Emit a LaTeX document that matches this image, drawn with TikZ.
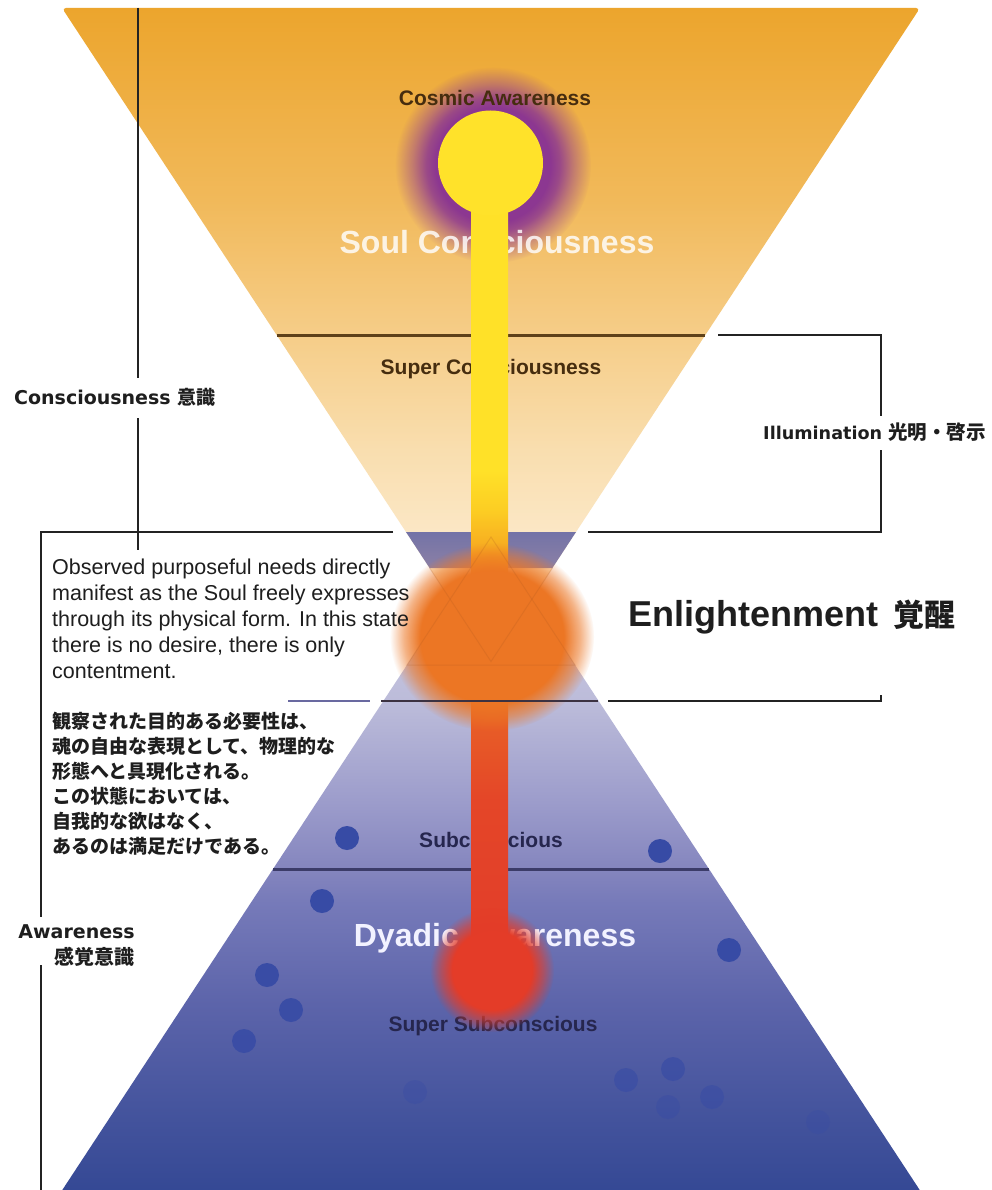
\documentclass[tikz,border=0pt]{standalone}
\usepackage{fontspec}
\setmainfont{Liberation Sans}
\newfontfamily\dvs{DejaVu Sans}
\newfontfamily\jp{Noto Sans CJK JP}
\usetikzlibrary{fadings}

\definecolor{brk}{RGB}{35,35,35}
\definecolor{txt}{RGB}{30,30,30}
\definecolor{brownlbl}{RGB}{70,45,15}
\definecolor{navylbl}{RGB}{38,38,78}
\definecolor{scline}{RGB}{95,65,25}
\definecolor{subline}{RGB}{60,60,105}
\definecolor{dotc}{RGB}{55,75,165}
\definecolor{halo}{RGB}{140,55,145}
\definecolor{glowc}{RGB}{236,118,36}
\definecolor{redblob}{RGB}{228,60,40}
\definecolor{sun}{RGB}{255,226,42}
\definecolor{bandtop}{RGB}{115,115,167}
\definecolor{bandbot}{RGB}{140,128,165}
\definecolor{neckline}{RGB}{170,85,30}
\definecolor{bluish}{RGB}{105,105,160}
\definecolor{darkmid}{RGB}{60,50,65}

% lower pyramid colours (bottom -> top); TikZ maps 25bp..75bp onto the path
\definecolor{pyA}{RGB}{52,72,148}
\definecolor{pyB}{RGB}{70,85,158}
\definecolor{pyC}{RGB}{92,100,170}
\definecolor{pyD}{RGB}{118,122,185}
\definecolor{pyE}{RGB}{132,133,190}
\definecolor{pyF}{RGB}{156,156,203}
\definecolor{pyG}{RGB}{188,188,218}
\definecolor{pyH}{RGB}{212,206,226}
\pgfdeclareverticalshading{pyrshade}{100bp}{color(0bp)=(pyA); color(25bp)=(pyA); color(31.9bp)=(pyB); color(39.5bp)=(pyC); color(47.2bp)=(pyD); color(49.65bp)=(pyE); color(54.85bp)=(pyF); color(62.5bp)=(pyG); color(75bp)=(pyH); color(100bp)=(pyH)}

% upper triangle colours (bottom -> top)
\definecolor{upA}{RGB}{250,226,192}
\definecolor{upB}{RGB}{251,231,197}
\definecolor{upC}{RGB}{249,222,175}
\definecolor{upD}{RGB}{246,206,138}
\definecolor{upE}{RGB}{241,185,90}
\definecolor{upF}{RGB}{236,165,45}
\pgfdeclareverticalshading{upshade}{100bp}{color(0bp)=(upA); color(25bp)=(upA); color(34.85bp)=(upB); color(41.15bp)=(upC); color(49.55bp)=(upD); color(60.3bp)=(upE); color(75bp)=(upF); color(100bp)=(upF)}

% beam colours (bottom -> top)
\definecolor{bmA}{RGB}{226,60,42}
\definecolor{bmB}{RGB}{228,70,40}
\definecolor{bmC}{RGB}{233,100,38}
\definecolor{bmD}{RGB}{237,120,35}
\definecolor{bmE}{RGB}{245,160,32}
\definecolor{bmF}{RGB}{252,205,35}
\definecolor{bmG}{RGB}{255,225,40}
\pgfdeclareverticalshading{beamshade}{100bp}{color(0bp)=(bmA); color(25bp)=(bmA); color(35.3bp)=(bmB); color(41.5bp)=(bmC); color(46.5bp)=(bmD); color(50.25bp)=(bmE); color(53.35bp)=(bmF); color(55.85bp)=(bmG); color(100bp)=(bmG)}

% fadings (radius 25bp = edge of the path)
\pgfdeclareradialshading{glowfadeshade}{\pgfpointorigin}{color(0bp)=(pgftransparent!0); color(17.5bp)=(pgftransparent!0); color(21.5bp)=(pgftransparent!45); color(25bp)=(pgftransparent!100); color(50bp)=(pgftransparent!100)}
\pgfdeclarefading{glowfade}{\pgfuseshading{glowfadeshade}}
\pgfdeclareradialshading{halofadeshade}{\pgfpointorigin}{color(0bp)=(pgftransparent!0); color(14.5bp)=(pgftransparent!0); color(17bp)=(pgftransparent!15); color(20.5bp)=(pgftransparent!55); color(25bp)=(pgftransparent!100); color(50bp)=(pgftransparent!100)}
\pgfdeclarefading{halofade}{\pgfuseshading{halofadeshade}}
\pgfdeclareradialshading{redfadeshade}{\pgfpointorigin}{color(0bp)=(pgftransparent!0); color(16bp)=(pgftransparent!0); color(20.5bp)=(pgftransparent!45); color(25bp)=(pgftransparent!100); color(50bp)=(pgftransparent!100)}
\pgfdeclarefading{redfade}{\pgfuseshading{redfadeshade}}

\begin{document}
\begin{tikzpicture}[x=1pt,y=-1pt,
  lbl/.style={font=\fontsize{21}{25}\selectfont\bfseries, inner sep=0},
  biglbl/.style={font=\fontsize{32}{38}\selectfont\bfseries, inner sep=0, text=white},
  side/.style={font=\fontsize{19}{23}\selectfont\dvs\bfseries, inner sep=0, text=txt},
  brkline/.style={line width=2pt, draw=brk},
  dot/.style={fill=dotc, draw=none}]
\useasboundingbox (0,0) rectangle (992,1190);
\fill[white] (0,0) rectangle (992,1190);

% lower pyramid
\shade[shading=pyrshade] (491,537) -- (923,1195) -- (59,1195) -- cycle;
% upper inverted triangle
\shade[shading=upshade, rounded corners=4pt] (62,8) -- (920,8) -- (491,661.5) -- cycle;
% blue band at the neck
\shade[top color=bandtop, bottom color=bandbot] (406,532) -- (576,532) -- (552.4,568) -- (429.6,568) -- cycle;

% level lines
\draw[line width=3pt, scline] (277,335) -- (705,335);
\draw[line width=3pt, subline] (273,869) -- (709,869);

% dots
\foreach \px/\py/\op in {347/838/1, 660/851/1, 322/901/1, 729/950/1, 267/975/0.95, 291/1010/0.9, 244/1041/0.85, 415/1092/0.35, 626/1080/0.6, 673/1069/0.65, 712/1097/0.5, 668/1107/0.4, 818/1122/0.3}
  \fill[dot, opacity=\op] (\px,\py) circle (12);

% halo around cosmic awareness
\fill[halo, path fading=halofade] (493,165) circle (98);

% level labels
\node[lbl, text=brownlbl] (cosmic) at (495,98) {Cosmic Awareness};
\node[biglbl, opacity=0.82] (soul) at (497,242) {Soul Consciousness};
\node[lbl, text=brownlbl] (supercon) at (491,369) {Super Consciousness};
\node[lbl, text=navylbl] (subcon) at (491,840) {Subconscious};
\node[biglbl, text=white!95!blue] (dyadic) at (495,938) {Dyadic Awareness};
\node[lbl, text=navylbl] (supersub) at (493,1026) {Super Subconscious};

% beam and sun
\shade[shading=beamshade] (471,163) rectangle (508,965);
\fill[sun] (490.5,163) circle (52.5);

% glows
\fill[glowc, path fading=glowfade] (492,637) ellipse [x radius=102, y radius=94];
\fill[redblob, path fading=redfade] (492,970) circle (62);

% faint neck outlines
\draw[neckline, opacity=0.2, line width=1pt] (429.6,568) -- (491,661.5) -- (552.4,568);
\draw[neckline, opacity=0.2, line width=1pt] (406.9,665) -- (491,537) -- (575.1,665) -- cycle;

% brackets
\draw[brkline] (138,8) -- (138,378);
\draw[brkline] (138,418) -- (138,550);
\draw[brkline] (393,532) -- (41,532) -- (41,917);
\draw[brkline] (41,965) -- (41,1195);
\draw[brkline] (718,335) -- (881,335) -- (881,416);
\draw[brkline] (881,450) -- (881,532) -- (588,532);
\draw[brkline] (608,701) -- (881,701) -- (881,695);
\draw[line width=2pt, darkmid] (381,701) -- (598,701);
\draw[line width=2pt, bluish] (288,701) -- (370,701);

% side labels
\node[side, anchor=west] (conslbl) at (14,397) {Consciousness {\jp 意識}};
\node[side, anchor=west, font=\fontsize{17.6}{22}\selectfont\dvs\bfseries] (illum) at (763,432) {Illumination {\jp\fontsize{19.5}{22}\selectfont 光明・啓示}};
\node[anchor=west, inner sep=0, text=txt, font=\fontsize{36}{40}\selectfont\bfseries] (enlight) at (628,617) {Enlightenment\hspace{15pt}{\jp\fontsize{31}{36}\selectfont 覚醒}};
\node[side, anchor=east] (aware) at (135,932) {Awareness};
\node[side, anchor=east, font=\fontsize{20}{23}\selectfont\jp\bfseries] (awarejp) at (135,957) {感覚意識};

% paragraphs
\node[anchor=north west, inner sep=0, align=left, text=txt, font=\fontsize{21.5}{26}\selectfont] (paraen) at (52,559) {Observed purposeful needs directly\\manifest as the Soul freely expresses\\through its physical form. In this state\\there is no desire, there is only\\contentment.};
\node[anchor=north west, inner sep=0, align=left, text=txt, font=\fontsize{19}{25}\selectfont\jp\bfseries] (parajp) at (52,712) {観察された目的ある必要性は、\\魂の自由な表現として、物理的な\\形態へと具現化される。\\この状態においては、\\自我的な欲はなく、\\あるのは満足だけである。};
\end{tikzpicture}
\end{document}
